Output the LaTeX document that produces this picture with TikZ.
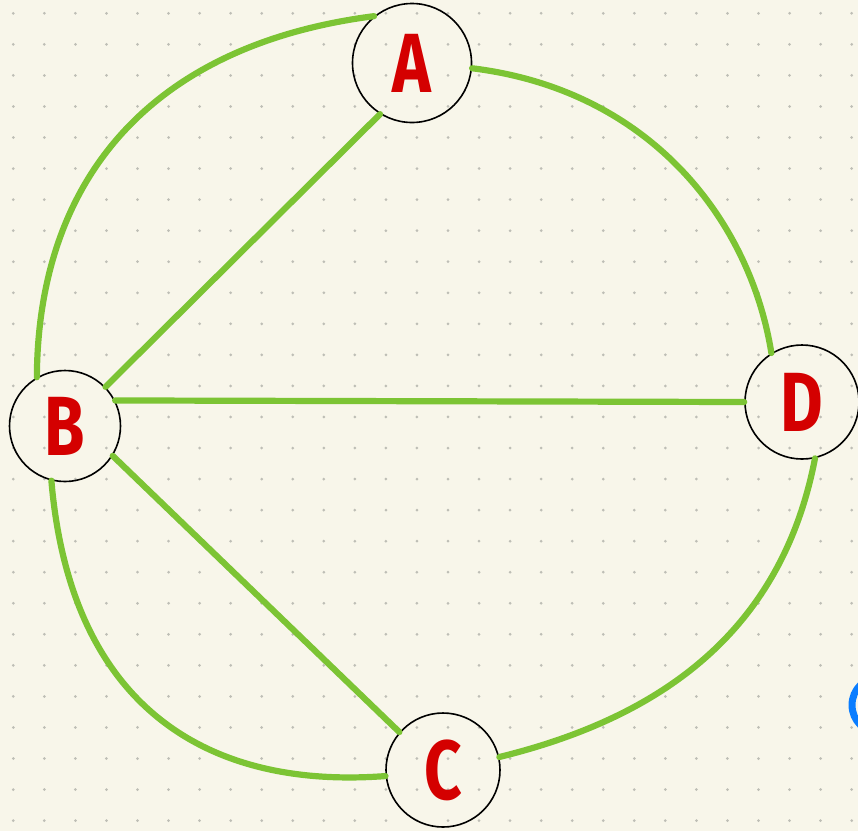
\documentclass[tikz,border=0pt]{standalone}
\usepackage{fontspec}
\setmainfont{Fira Sans}
\definecolor{bgc}{RGB}{248,246,234}
\definecolor{dotc}{RGB}{190,190,182}
\definecolor{edgec}{RGB}{124,196,52}
\definecolor{letc}{RGB}{212,0,0}
\definecolor{bluec}{RGB}{10,125,255}
\newfontfamily\letfont[FakeStretch=0.78]{Fira Sans Bold}
\tikzset{
  vert/.style={circle, draw=black, line width=1.6pt, inner sep=0pt, text=letc,
    font=\letfont\fontsize{84}{84}\selectfont},
  edge/.style={draw=edgec, line width=6.2pt, line cap=round}
}
\begin{document}
\begin{tikzpicture}[x=1pt,y=-1pt]
\useasboundingbox (0,0) rectangle (858,831);
\clip (0,0) rectangle (858,831);
\fill[bgc] (0,0) rectangle (858,831);
\foreach \i in {0,...,27}{
  \foreach \j in {0,...,26}{
    \fill[dotc] ({13.3+31.05*\i},{13.3+31.05*\j}) circle (1.5pt);
  }
}
\node[vert, minimum size=119pt] (A) at (412,63) {A};
\node[vert, minimum size=111pt] (B) at (65,426) {B};
\node[vert, minimum size=114pt] (C) at (443,770) {C};
\node[vert, minimum size=114pt] (D) at (802,402) {D};
% curved edges
\draw[edge] (A.129) .. controls (150,45) and (38,180) .. (B.120);
\draw[edge] (A.-5) .. controls (650,90) and (750,220) .. (D.122);
\draw[edge] (B.-104) .. controls (70,700) and (200,790) .. (C.186);
\draw[edge] (D.-77) .. controls (780,640) and (650,720) .. (C.13);
% straight edges
\draw[edge] (A.238) -- (B.44);
\draw[edge] (B.27) -- (D.180);
\draw[edge] (B.-32) -- (C.139);
% partial blue shape at right edge
\coordinate (bl) at (880,705);
\draw[bluec, line width=7pt] (bl) circle (28pt);
\end{tikzpicture}
\end{document}
